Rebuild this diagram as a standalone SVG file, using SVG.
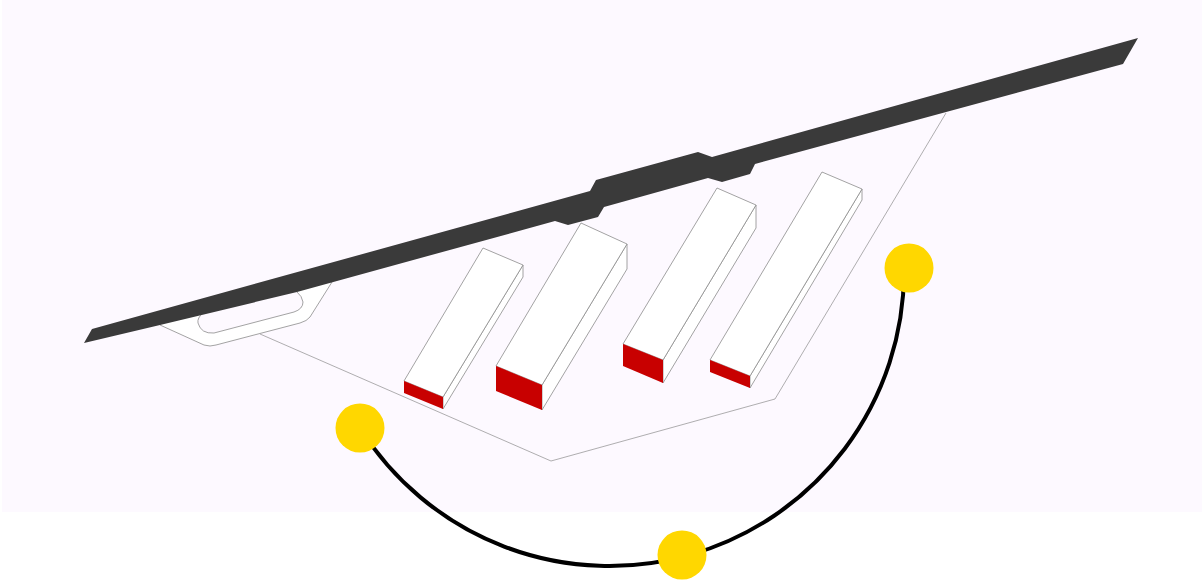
<svg xmlns="http://www.w3.org/2000/svg" width="1202" height="581" viewBox="0 0 1202 581">
<style>
.ln{stroke:#8c8c8c;stroke-width:.8;fill:#fff;stroke-linejoin:round}
.bg{stroke:#8c8c8c;stroke-width:.8;fill:#fdf9ff}
.red{fill:#c80000;stroke:none}
.dot{fill:#ffd700}
</style>
<rect width="1202" height="581" fill="#fff"/>
<rect x="2" y="0" width="1200" height="512" fill="#fdf9ff"/>
<g id="site"><path d="M260 334L551 461L775 399L946 113" fill="none" stroke="#8c8c8c" stroke-width=".7"/></g>
<g id="parking">
<path class="ln" d="M160 325L204 345Q210 347 216 345L300 323Q307 321 310 317L332 282L310 280L160 315Z"/>
<path class="bg" d="M203 313Q197 318 198 323Q201 334 214 333L294 312Q303 309 303 302Q302 296 297 292L290 285L200 310Z"/>
</g>
<g id="road"><path fill="#3a3a3a" d="M92 329L590 191L596 180L698 152L712 157L1138 38L1123 64L755 164L750 174L722 182L708 178L604 207L598 217L568 225L555 221L297 292L160 325L84 343Z"/></g>
<g id="building-1">
<path class="ln" d="M523 265L523 277L443 409L443 397Z"/><path class="ln" d="M483 248L523 265L443 397L404 381Z"/>
<path class="red" d="M404 381L443 397L443 409L404 393Z"/></g>
<g id="building-2">
<path class="ln" d="M627 244L627 269L542 410L542 385Z"/><path class="ln" d="M581 223L627 244L542 385L496 366Z"/>
<path class="red" d="M496 366L542 385L542 410L496 391Z"/></g>
<g id="building-3">
<path class="ln" d="M756 205L756 228L663 383L663 360Z"/><path class="ln" d="M717 188L756 205L663 360L623 344Z"/>
<path class="red" d="M623 344L663 360L663 383L623 366Z"/></g>
<g id="building-4">
<path class="ln" d="M862 189L862 200L750 388L750 376Z"/><path class="ln" d="M822 172L862 189L750 376L710 360Z"/>
<path class="red" d="M710 360L750 376L750 388L710 372Z"/></g>
<g id="connectors"><path d="M360 428A294.5 294.5 0 0 0 904 272" fill="none" stroke="#000" stroke-width="4"/></g>
<g id="point-1"><circle class="dot" cx="360" cy="428" r="24.5"/></g>
<g id="point-2"><circle class="dot" cx="682" cy="555" r="24.5"/></g>
<g id="point-3"><circle class="dot" cx="909" cy="268" r="24.5"/></g>
</svg>
